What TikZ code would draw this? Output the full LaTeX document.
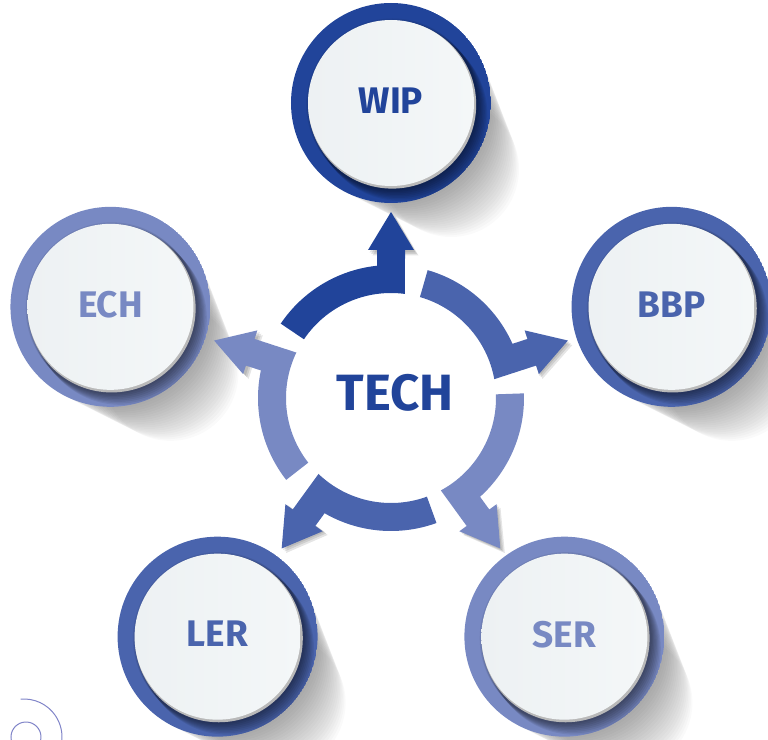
\documentclass[tikz,border=0pt]{standalone}
\usepackage{fontspec}
\setmainfont{Fira Sans}
\usetikzlibrary{calc}

\definecolor{techdark}{HTML}{21449A}
\definecolor{techmid}{HTML}{4A64AD}
\definecolor{techlight}{HTML}{7889C3}
\definecolor{discleft}{HTML}{EDF1F3}
\definecolor{discright}{HTML}{F4F7F8}
\definecolor{decoline}{HTML}{8084C8}

\tikzset{
    disc/.style={circle, inner sep=0pt, minimum size=166pt, text depth=5pt,
        left color=discleft, right color=discright,
        font=\fontsize{37}{40}\selectfont\bfseries},
    core/.style={font=\fontsize{51}{56}\selectfont\bfseries, text=techdark}
}

\begin{document}
\begin{tikzpicture}[x=1pt, y=1pt]
    \useasboundingbox (-391,-341) rectangle (377,398);

    % soft shadows behind the outer circles
    \foreach \ang in {90,18,-54,-126,162}
        \foreach \i in {1,...,20}
            \fill[black, opacity=0.02] ($(\ang:295)+(3*\i,-3.3*\i)$) circle ({100-1.6*\i});

    % shadows of the arrow heads
    \foreach \ang in {90,18,-54,-126,162}
        \foreach \i in {1,2,3}
            \fill[black, opacity=0.1, shift={(1.5*\i,-1.5*\i)}, rotate=\ang]
                (147,23) -- (186,0) -- (147,-23) -- cycle;

    % ring of arrows round the centre
    \foreach \ang/\col in {90/techdark, 18/techmid, -54/techlight, -126/techmid, 162/techlight}
        \fill[\col, rotate=\ang] ({-asin(14/105)}:105) arc ({-asin(14/105)}:56:105)
            -- (56:133) arc (56:{asin(14/133)}:133)
            -- (148,14) -- (148,23) -- (186,0) -- (148,-23) -- (148,-14) -- cycle;

    % outer circles
    \foreach \ang/\col/\txt/\nm in {90/techdark/WIP/wip, 18/techmid/BBP/bbp,
            -54/techlight/SER/ser, -126/techmid/LER/ler, 162/techlight/ECH/ech} {
        \begin{scope}
            \clip (\ang:295) circle (100);
            \fill[\col] (\ang:295) circle (100);
            \foreach \i in {1,...,8}
                \fill[black, opacity=0.07] ($(\ang:295)+(1.3*\i,-1.5*\i)$) circle (86);
        \end{scope}
        \fill[gray!55] ($(\ang:295)+(1.2,-1.6)$) circle (84);
        \node[disc, text=\col] (\nm) at (\ang:295) {\txt};
    }

    \node[core] (tech) at (4,5) {TECH};

    % corner ornament
    \draw[decoline, line width=1] (-365,-339) circle (15);
    \draw[decoline, line width=1] (-367,-339) ++(95:38) arc (95:-10:38);
\end{tikzpicture}
\end{document}
